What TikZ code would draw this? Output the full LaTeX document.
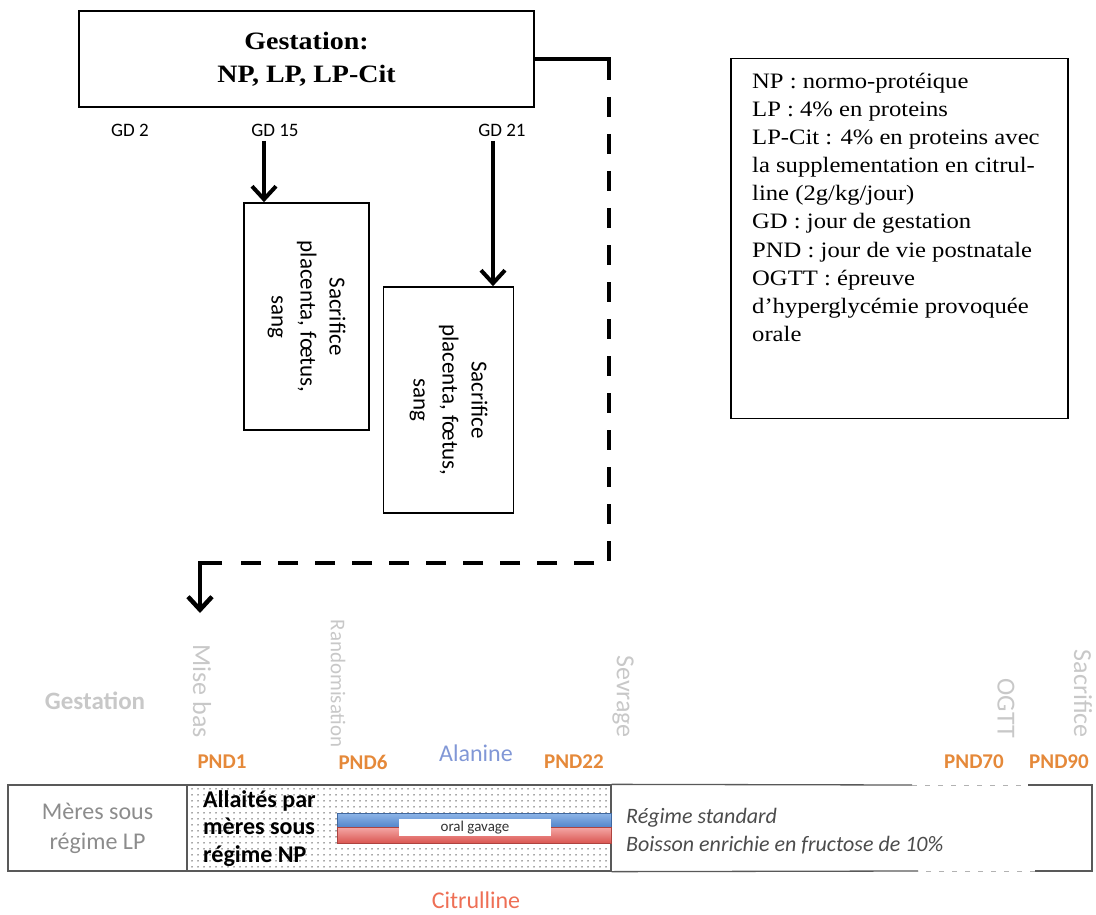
\documentclass[tikz,border=0pt]{standalone}
\usepackage{fontspec}
\setmainfont[FakeStretch=1.12]{Liberation Serif}
\setsansfont{Carlito}
\usetikzlibrary{arrows.meta,patterns.meta,calc}
\definecolor{pndorange}{HTML}{E5893A}
\definecolor{alablue}{HTML}{8197D6}
\definecolor{citred}{HTML}{EE6F55}
\definecolor{ghost}{HTML}{C8C8C8}
\definecolor{barblueT}{HTML}{8FB6E8}
\definecolor{barblueB}{HTML}{4F82C9}
\definecolor{barredT}{HTML}{F4A6A4}
\definecolor{barredB}{HTML}{D9544F}
\tikzset{
  box/.style={draw=black, line width=1.8pt, fill=white, inner sep=0pt},
  sbox/.style={draw=black, line width=1.6pt, fill=white, inner sep=0pt, align=center,
    font=\sffamily\fontsize{23pt}{29pt}\selectfont},
  gd/.style={font=\sffamily\fontsize{19pt}{22pt}\selectfont, inner sep=0pt},
  thickarrow/.style={line width=4pt, -{Straight Barb[length=13pt,width=24pt]}},
  conn/.style={line width=4.5pt},
  ghosttext/.style={rotate=-90, anchor=east, inner sep=0pt, text=ghost,
    font=\sffamily\fontsize{26pt}{30pt}\selectfont},
  pnd/.style={text=pndorange, inner sep=0pt, font=\sffamily\bfseries\fontsize{21pt}{24pt}\selectfont},
  barline/.style={draw=black!65, line width=1.3pt},
  faint/.style={draw=black!30, line width=1pt, dash pattern=on 5pt off 8pt},
}
\begin{document}
\begin{tikzpicture}[x=1pt,y=-1pt]
\useasboundingbox (0,0) rectangle (1096,915);

% ---------- top part ----------
\node[box, minimum width=455pt, minimum height=96pt, align=center,
  font=\bfseries\fontsize{25pt}{33pt}\selectfont] (gest) at (306.5,59) {Gestation:\\NP, LP, LP-Cit};

\node[gd] (gd2) at (130,130) {GD 2};
\node[gd] (gd15) at (275,130) {GD 15};
\node[gd] (gd21) at (502,130) {GD 21};

\node[sbox, minimum width=227pt, minimum height=125pt, rotate=-90] (box1) at (306.5,316.5)
  {Sacrifice\\placenta, fœtus,\\sang};
\node[sbox, minimum width=226pt, minimum height=130pt, rotate=-90] (box2) at (448.5,400)
  {Sacrifice\\placenta, fœtus,\\sang};

\coordinate (a1) at (264,141);
\coordinate (a2) at (493,141);
\draw[thickarrow] (a1) -- (a1 |- box1.west);
\draw[thickarrow] (a2) -- (a2 |- box2.west);

% legend
\node[box, minimum width=337pt, minimum height=360pt] (leg) at (899.5,238.5) {};
\node[anchor=north west, inner sep=0pt, align=left,
  font=\fontsize{22pt}{28.1pt}\selectfont] (legtxt) at (752,73)
  {NP : normo-protéique\\
   LP : 4\% en proteins\\
   LP-Cit : 4\% en proteins avec\\
   la supplementation en citrul-\\
   line (2g/kg/jour)\\
   GD : jour de gestation\\
   PND : jour de vie postnatale\\
   OGTT : épreuve\\
   d’hyperglycémie provoquée\\
   orale};

% dashed connector
\coordinate (d1) at (609,59);
\coordinate (d2) at (609,563);
\coordinate (d3) at (200,563);
\coordinate (d4) at (200,613);
\draw[conn] (gest.east) -- (d1) -- ($(d1)+(0,21)$);
\draw[conn, dash pattern=on 20pt off 17pt] ($(d1)+(0,38)$) -- (d2) -- ($(d3)+(37,0)$);
\draw[conn, -{Straight Barb[length=13pt,width=24pt]}] ($(d3)+(22,0)$) -- (d3) -- (d4);

% ---------- bottom timeline ----------
\node[text=ghost, inner sep=0pt, font=\sffamily\bfseries\fontsize{25pt}{30pt}\selectfont] (gestlbl) at (95,701) {Gestation};
\node[ghosttext] (misebas) at (202,738) {Mise bas};
\node[ghosttext, font=\sffamily\fontsize{21pt}{24pt}\selectfont] (rando) at (338,748) {Randomisation};
\node[ghosttext] (sevrage) at (623,738) {Sevrage};
\node[ghosttext] (ogtt) at (1006,738) {OGTT};
\node[ghosttext] (sacr) at (1083,738) {Sacrifice};

\node[pnd] (p1) at (222,762) {PND1};
\node[pnd] (p6) at (363,762) {PND6};
\node[pnd] (p22) at (574,762) {PND22};
\node[pnd] (p70) at (974,762) {PND70};
\node[pnd] (p90) at (1059,762) {PND90};

\node[text=alablue, inner sep=0pt, font=\sffamily\fontsize{24pt}{28pt}\selectfont] (ala) at (476,753) {Alanine};
\node[text=citred, inner sep=0pt, font=\sffamily\fontsize{24pt}{28pt}\selectfont] (cit) at (476,900) {Citrulline};

% bar cells
\node[barline, minimum width=179pt, minimum height=86pt, inner sep=0pt, align=center,
  text=black!45, font=\sffamily\fontsize{24pt}{30pt}\selectfont] (lp) at (97.5,828) {Mères sous\\régime LP};
\node[barline, minimum width=424pt, minimum height=86pt, inner sep=0pt,
  pattern={Dots[distance=6pt, radius=0.75pt]}, pattern color=black!70] (np) at (399,828) {};
\node[anchor=north west, inner sep=0pt, align=left,
  font=\sffamily\bfseries\fontsize{24pt}{27.5pt}\selectfont] (nptxt) at (203,790)
  {Allaités par\\mères sous\\régime NP};

\node[inner sep=0pt, minimum width=274pt, minimum height=15pt,
  top color=barblueT, bottom color=barblueB, draw=barblueB!80!black, line width=0.4pt] (bluebar) at (474,820.5) {};
\node[inner sep=0pt, minimum width=274pt, minimum height=16pt,
  top color=barredT, bottom color=barredB, draw=barredB!80!black, line width=0.4pt] (redbar) at (474,835.5) {};
\node[fill=white, inner sep=0pt, minimum width=152pt, minimum height=17pt,
  font=\sffamily\fontsize{15pt}{16pt}\selectfont, text=black!80] (gav) at (475,827.5) {oral gavage};

\node[anchor=base west, inner sep=0pt, text=black!70,
  font=\sffamily\itshape\fontsize{22pt}{26pt}\selectfont] (reg1) at (626,823) {Régime standard};
\node[anchor=base west, inner sep=0pt, text=black!70,
  font=\sffamily\itshape\fontsize{22pt}{26pt}\selectfont] (reg2) at (626,851) {Boisson enrichie en fructose de 10\%};

\coordinate (t1) at (912,785);
\coordinate (t2) at (1028,785);
\coordinate (tr) at (1092,785);
\coordinate (br) at (1092,871);
\coordinate (b2) at (1035,871);
\coordinate (b1) at (918,871);
\draw[barline] (np.north east) -- (t1);
\draw[faint] (t1) -- (t2);
\draw[barline] (t2) -- (tr) -- (br) -- (b2);
\draw[faint] (b2) -- (b1);
\draw[barline] (b1) -- (np.south east);
\end{tikzpicture}
\end{document}
